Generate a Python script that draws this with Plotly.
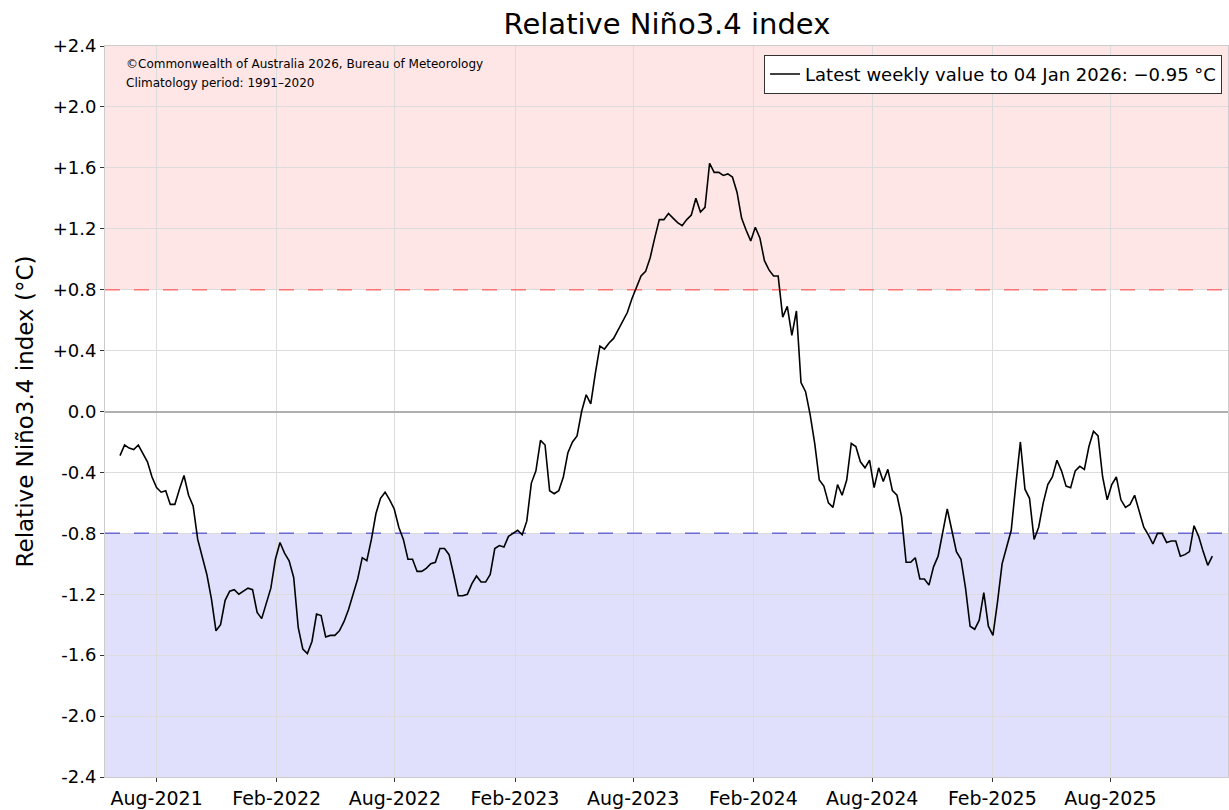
import pandas as pd
import plotly.graph_objects as go

# Weekly relative Niño3.4 index values (°C), week ending 2021-06-06 to 2026-01-04
start_date = "2021-06-06"
values = [
    -0.29, -0.22, -0.24, -0.25, -0.22, -0.28, -0.33, -0.43, -0.50, -0.53,
    -0.52, -0.61, -0.61, -0.51, -0.42, -0.55, -0.62, -0.84, -0.96, -1.07,
    -1.23, -1.44, -1.40, -1.24, -1.18, -1.17, -1.20, -1.18, -1.16, -1.17,
    -1.32, -1.36, -1.26, -1.16, -0.97, -0.86, -0.93, -0.98, -1.09, -1.42,
    -1.56, -1.59, -1.51, -1.33, -1.34, -1.48, -1.47, -1.47, -1.44, -1.38,
    -1.30, -1.20, -1.10, -0.96, -0.98, -0.84, -0.67, -0.57, -0.53, -0.58,
    -0.64, -0.76, -0.84, -0.97, -0.97, -1.05, -1.05, -1.03, -1.00, -0.99,
    -0.90, -0.90, -0.94, -1.07, -1.21, -1.21, -1.20, -1.13, -1.08, -1.12,
    -1.12, -1.07, -0.90, -0.88, -0.89, -0.82, -0.80, -0.78, -0.81, -0.72,
    -0.47, -0.39, -0.19, -0.22, -0.52, -0.54, -0.52, -0.43, -0.27, -0.20,
    -0.16, 0.00, 0.11, 0.05, 0.25, 0.43, 0.41, 0.45, 0.48, 0.54,
    0.59, 0.65, 0.74, 0.81, 0.89, 0.92, 1.01, 1.14, 1.26, 1.26,
    1.30, 1.27, 1.24, 1.22, 1.26, 1.29, 1.40, 1.31, 1.34, 1.63,
    1.57, 1.57, 1.55, 1.56, 1.54, 1.44, 1.27, 1.19, 1.12, 1.21,
    1.14, 0.99, 0.93, 0.89, 0.89, 0.62, 0.69, 0.50, 0.66, 0.19,
    0.13, -0.02, -0.21, -0.45, -0.49, -0.60, -0.63, -0.48, -0.55, -0.45,
    -0.21, -0.23, -0.33, -0.37, -0.32, -0.50, -0.37, -0.46, -0.38, -0.52,
    -0.55, -0.69, -0.99, -0.99, -0.96, -1.10, -1.10, -1.14, -1.02, -0.95,
    -0.79, -0.64, -0.78, -0.92, -0.97, -1.16, -1.41, -1.43, -1.37, -1.19,
    -1.41, -1.47, -1.25, -1.00, -0.89, -0.78, -0.48, -0.20, -0.51, -0.57,
    -0.84, -0.76, -0.60, -0.48, -0.43, -0.32, -0.39, -0.49, -0.50, -0.39,
    -0.36, -0.38, -0.23, -0.13, -0.16, -0.43, -0.58, -0.48, -0.43, -0.58,
    -0.63, -0.61, -0.55, -0.65, -0.76, -0.81, -0.87, -0.80, -0.80, -0.86,
    -0.85, -0.85, -0.95, -0.94, -0.92, -0.75, -0.82, -0.92, -1.01, -0.95,
]
dates = pd.date_range(start=start_date, periods=len(values), freq="7D")

x_tick_vals = ["2021-08-01", "2022-02-01", "2022-08-01", "2023-02-01", "2023-08-01",
               "2024-02-01", "2024-08-01", "2025-02-01", "2025-08-01"]
x_tick_text = ["Aug-2021", "Feb-2022", "Aug-2022", "Feb-2023", "Aug-2023",
               "Feb-2024", "Aug-2024", "Feb-2025", "Aug-2025"]
y_tick_vals = [2.4, 2.0, 1.6, 1.2, 0.8, 0.4, 0.0, -0.4, -0.8, -1.2, -1.6, -2.0, -2.4]
y_tick_text = ["+2.4", "+2.0", "+1.6", "+1.2", "+0.8", "+0.4", "0.0",
               "-0.4", "-0.8", "-1.2", "-1.6", "-2.0", "-2.4"]
el_nino_threshold = 0.8
la_nina_threshold = -0.8
x_range = ["2021-05-14", "2026-01-28"]
y_range = [-2.4, 2.4]
legend_label = "Latest weekly value to 04 Jan 2026: \u22120.95 \u00b0C"

FONT = "DejaVu Sans"

fig = go.Figure()

# threshold dashed lines (drawn beneath the data line)
fig.add_trace(go.Scatter(
    x=x_range, y=[el_nino_threshold, el_nino_threshold], mode="lines",
    line=dict(color="#ff7373", width=1.5, dash="15px,14px"),
    showlegend=False, hoverinfo="skip"))
fig.add_trace(go.Scatter(
    x=x_range, y=[la_nina_threshold, la_nina_threshold], mode="lines",
    line=dict(color="#6a6ad0", width=1.5, dash="15px,14px"),
    showlegend=False, hoverinfo="skip"))

fig.add_trace(go.Scatter(
    x=dates, y=values, mode="lines",
    line=dict(color="black", width=1.6),
    name=legend_label, showlegend=True,
))

# shaded regions
fig.add_shape(type="rect", xref="paper", yref="y", x0=0, x1=1,
              y0=el_nino_threshold, y1=y_range[1],
              fillcolor="#ffe6e6", line=dict(width=0), layer="below")
fig.add_shape(type="rect", xref="paper", yref="y", x0=0, x1=1,
              y0=y_range[0], y1=la_nina_threshold,
              fillcolor="#e0e0fc", line=dict(width=0), layer="below")

fig.add_annotation(xref="paper", yref="paper", x=0.017, y=0.975,
                   xanchor="left", yanchor="middle", showarrow=False,
                   text="\u00a9Commonwealth of Australia 2026, Bureau of Meteorology",
                   font=dict(family=FONT, size=12, color="black"))
fig.add_annotation(xref="paper", yref="paper", x=0.017, y=0.950,
                   xanchor="left", yanchor="middle", showarrow=False,
                   text="Climatology period: 1991\u20132020",
                   font=dict(family=FONT, size=12, color="black"))

fig.update_layout(
    width=1229, height=810,
    margin=dict(l=105, r=1, t=46, b=33, autoexpand=False),
    paper_bgcolor="white", plot_bgcolor="white",
    font=dict(family=FONT, color="black"),
    title=dict(text="Relative Niño3.4 index", x=0.5427,
               xanchor="center", y=0.97, yanchor="middle",
               font=dict(family=FONT, size=29, color="black")),
    legend=dict(x=0.9947, y=0.988, xanchor="right", yanchor="top",
                bgcolor="white", bordercolor="#333333", borderwidth=1,
                tracegroupgap=0, itemwidth=30,
                font=dict(family=FONT, size=18, color="black")),
    xaxis=dict(type="date", range=x_range, tickvals=x_tick_vals, ticktext=x_tick_text,
               showgrid=True, gridcolor="#dcdcdc", gridwidth=1, automargin=False,
               ticks="outside", ticklen=4, tickcolor="#333333",
               tickfont=dict(family=FONT, size=19, color="black"),
               showline=True, linecolor="#cccccc", mirror=True, zeroline=False),
    yaxis=dict(range=y_range, tickvals=y_tick_vals, ticktext=y_tick_text,
               showgrid=True, gridcolor="#dcdcdc", gridwidth=1, automargin=False,
               zeroline=True, zerolinecolor="#b0b0b0", zerolinewidth=1.5,
               ticks="outside", ticklen=4, tickcolor="#333333",
               tickfont=dict(family=FONT, size=18, color="black"),
               title=dict(text="Relative Niño3.4 index (\u00b0C)",
                          font=dict(family=FONT, size=23, color="black"), standoff=12),
               showline=True, linecolor="#cccccc", mirror=True),
)

fig.write_html("out.html",
               config={"displayModeBar": False},
               post_script="document.body.style.margin='0';document.body.style.overflow='hidden';")
